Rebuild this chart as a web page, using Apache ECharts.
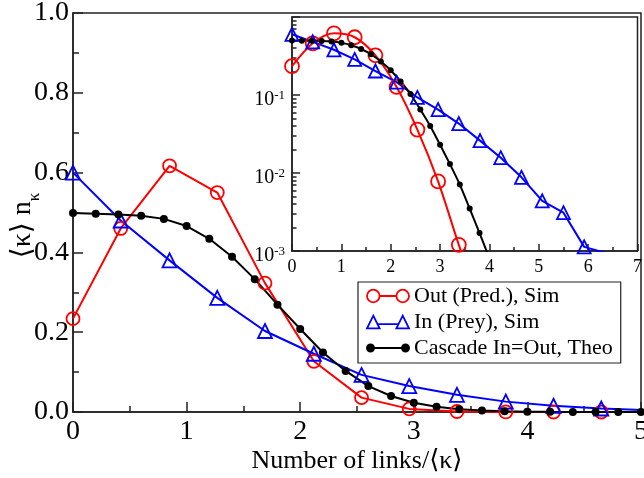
<!DOCTYPE html>
<html>
<head>
<meta charset="utf-8">
<title>Degree distributions</title>
<script src="https://cdn.jsdelivr.net/npm/echarts@6/dist/echarts.min.js"></script>
<style>
  html, body { margin: 0; padding: 0; background: #fff; }
  #chart { width: 644px; height: 478px; }
</style>
</head>
<body>
<div id="chart"></div>
<script>
// theory curve (cascade In=Out), step 0.2
const theoX = [0, 0.2, 0.4, 0.6, 0.8, 1.0, 1.2, 1.4, 1.6, 1.8, 2.0, 2.2, 2.4, 2.6, 2.8, 3.0, 3.2, 3.4, 3.6, 3.8, 4.0, 4.2, 4.4, 4.6, 4.8, 5.0]
const theoY = [0.499, 0.497, 0.495, 0.492, 0.484, 0.466, 0.434, 0.389, 0.333, 0.269, 0.208, 0.149, 0.103, 0.065, 0.040, 0.023, 0.013, 0.0071, 0.0035, 0.0017, 0.0008, 0.00035, 0.00015, 0.00006, 0.00002, 0.00001]

// simulation points
const simX = [0, 0.42, 0.85, 1.27, 1.69, 2.12, 2.54, 2.96, 3.38, 3.81, 4.23, 4.65, 5.07, 5.5, 5.92, 6.34]
const outY = [0.234, 0.46, 0.617, 0.55, 0.323, 0.127, 0.036, 0.0078, 0.0012, 0.0002, 0.00005, 0.00001]
const inY = [0.60, 0.48, 0.38, 0.286, 0.203, 0.146, 0.093, 0.065, 0.043, 0.026, 0.0157, 0.0088, 0.0044, 0.0031, 0.00113, 0.00095]

const seriesNames = ['Out (Pred.), Sim', 'In (Prey), Sim', 'Cascade In=Out, Theo']
const logMajorTicks = [0.001, 0.01, 0.1, 1]

const FONT = '"Liberation Serif", "DejaVu Serif", "Times New Roman", serif'
const AXIS_COLOR = '#222'
const RED = '#ff0000'
const BLUE = '#0000ff'
const BLACK = '#000000'

// log minor ticks 2..9 in every decade
const logMinorTicks = []
for (let k = -3; k < 0; k++) {
  for (let m = 2; m <= 9; m++) {
    logMinorTicks.push(+(m * Math.pow(10, k)).toPrecision(3))
  }
}

const pairs = (xs, ys) => ys.map((y, i) => [xs[i], y])
const outData = pairs(simX, outY)
const inData = pairs(simX, inY)
const theoData = pairs(theoX, theoY)

function lineSeries(name, data, color, symbol, size, filled, axis, smooth) {
  return {
    name: name,
    type: 'line',
    xAxisIndex: axis,
    yAxisIndex: axis === 0 ? 0 : 1,
    data: data,
    symbol: symbol,
    symbolSize: size,
    showAllSymbol: true,
    smooth: smooth || false,
    clip: true,
    lineStyle: { color: color, width: 2 },
    itemStyle: {
      color: filled ? color : 'rgba(0,0,0,0)',
      borderColor: color,
      borderWidth: filled ? 0 : 1.8
    },
    emphasis: { disabled: true },
    silent: true
  }
}

const tickStyle = { color: AXIS_COLOR, width: 1.5 }

const option = {
  animation: false,
  backgroundColor: '#fff',
  grid: [
    { left: 73, right: 3, top: 13, bottom: 66, show: true, borderColor: AXIS_COLOR, borderWidth: 1.5, backgroundColor: '#fff', containLabel: false, outerBoundsMode: 'none' },
    { left: 292, right: 6.5, top: 17, bottom: 227, show: true, borderColor: AXIS_COLOR, borderWidth: 1.5, backgroundColor: '#fff', containLabel: false, outerBoundsMode: 'none' }
  ],
  legend: {
    orient: 'vertical',
    left: 358,
    top: 282,
    padding: [2, 8, 3, 8],
    itemGap: 2,
    itemWidth: 42,
    itemHeight: 14,
    backgroundColor: '#fff',
    borderColor: AXIS_COLOR,
    borderWidth: 1.2,
    selectedMode: false,
    z: 10,
    textStyle: { fontFamily: FONT, fontSize: 22, color: '#000', lineHeight: 24 },
    data: [
      {
        name: seriesNames[0],
        icon: 'path://M1,7 A6,6 0 1 1 13,7 A6,6 0 1 1 1,7 Z M13,7 L29,7 M29,7 A6,6 0 1 1 41,7 A6,6 0 1 1 29,7 Z',
        itemStyle: { color: 'rgba(0,0,0,0)', borderColor: RED, borderWidth: 1.8 }
      },
      {
        name: seriesNames[1],
        icon: 'path://M7,1 L13,13 L1,13 Z M11,9 L31,9 M35,1 L41,13 L29,13 Z',
        itemStyle: { color: 'rgba(0,0,0,0)', borderColor: BLUE, borderWidth: 1.8 }
      },
      {
        name: seriesNames[2],
        icon: 'path://M0,7 A3.5,3.5 0 1 1 7,7 A3.5,3.5 0 1 1 0,7 Z M7,7 L35,7 M35,7 A3.5,3.5 0 1 1 42,7 A3.5,3.5 0 1 1 35,7 Z',
        itemStyle: { color: BLACK, borderColor: BLACK, borderWidth: 2 }
      }
    ]
  },
  xAxis: [
    {
      gridIndex: 0,
      type: 'value',
      min: 0,
      max: 5,
      interval: 1,
      axisLine: { onZero: false, lineStyle: tickStyle },
      axisTick: { inside: true, length: 10, lineStyle: tickStyle },
      minorTick: { show: true, splitNumber: 2, length: 6, lineStyle: tickStyle },
      splitLine: { show: false },
      axisLabel: { fontFamily: FONT, fontSize: 28, color: '#000', margin: 6 },
      name: 'Number of links/⟨κ⟩',
      nameLocation: 'middle',
      nameGap: 36,
      nameMoveOverlap: false,
      nameTextStyle: { fontFamily: FONT, fontSize: 26, color: '#000' }
    },
    {
      gridIndex: 1,
      type: 'value',
      min: 0,
      max: 7,
      interval: 1,
      axisLine: { onZero: false, lineStyle: tickStyle },
      axisTick: { inside: true, length: 7, lineStyle: tickStyle },
      minorTick: { show: true, splitNumber: 2, length: 4, lineStyle: tickStyle },
      splitLine: { show: false },
      axisLabel: { fontFamily: FONT, fontSize: 18, color: '#000', margin: 7 }
    }
  ],
  yAxis: [
    {
      gridIndex: 0,
      type: 'value',
      min: 0,
      max: 1,
      interval: 0.2,
      axisLine: { lineStyle: tickStyle },
      axisTick: { inside: true, length: 10, lineStyle: tickStyle },
      minorTick: { show: true, splitNumber: 2, length: 6, lineStyle: tickStyle },
      splitLine: { show: false },
      axisLabel: {
        fontFamily: FONT, fontSize: 28, color: '#000', margin: 4,
        formatter: v => v.toFixed(1)
      },
      name: '{a|⟨κ⟩ n}{s|κ}',
      nameLocation: 'middle',
      nameRotate: 90,
      nameGap: 30,
      nameMoveOverlap: false,
      nameTextStyle: {
        fontFamily: FONT, fontSize: 28, color: '#000',
        padding: [0, 26, 0, 0],
        rich: {
          a: { fontFamily: FONT, fontSize: 28, color: '#000', lineHeight: 40 },
          s: { fontFamily: FONT, fontSize: 17, color: '#000', lineHeight: 16, verticalAlign: 'bottom' }
        }
      }
    },
    {
      gridIndex: 1,
      type: 'log',
      logBase: 10,
      min: 0.001,
      max: 1,
      position: 'left',
      axisLine: { lineStyle: tickStyle },
      axisTick: { inside: true, length: 8, lineStyle: tickStyle, customValues: logMajorTicks },
      splitLine: { show: false },
      axisLabel: {
        margin: 7,
        customValues: logMajorTicks,
        formatter: v => {
          if (v >= 1) return ''
          const e = Math.round(Math.log10(v))
          return '{b|10}{s|' + e + '}'
        },
        rich: {
          b: { fontFamily: FONT, fontSize: 20, color: '#000', lineHeight: 20, padding: [10, 0, 0, 0] },
          s: { fontFamily: FONT, fontSize: 13, color: '#000', lineHeight: 13, padding: [4, 0, 0, 0], verticalAlign: 'top' }
        }
      }
    },
    {
      // minor log ticks only
      gridIndex: 1,
      type: 'log',
      logBase: 10,
      min: 0.001,
      max: 1,
      position: 'left',
      axisLine: { show: false },
      axisTick: { inside: true, length: 4.5, lineStyle: tickStyle, customValues: logMinorTicks },
      axisLabel: { show: false },
      splitLine: { show: false }
    }
  ],
  series: [
    lineSeries(seriesNames[0], outData, RED, 'circle', 13, false, 0),
    lineSeries(seriesNames[1], inData, BLUE, 'triangle', 14, false, 0),
    lineSeries(seriesNames[2], theoData, BLACK, 'circle', 8, true, 0),
    lineSeries(seriesNames[0], outData, RED, 'circle', 14, false, 1, 0.3),
    lineSeries(seriesNames[1], inData, BLUE, 'triangle', 13, false, 1),
    lineSeries(seriesNames[2], theoData, BLACK, 'circle', 6, true, 1, 0.2)
  ]
}

const chart = echarts.init(document.getElementById('chart'), null, { renderer: 'canvas' })
chart.setOption(option)
window.addEventListener('resize', () => chart.resize())
</script>
</body>
</html>
